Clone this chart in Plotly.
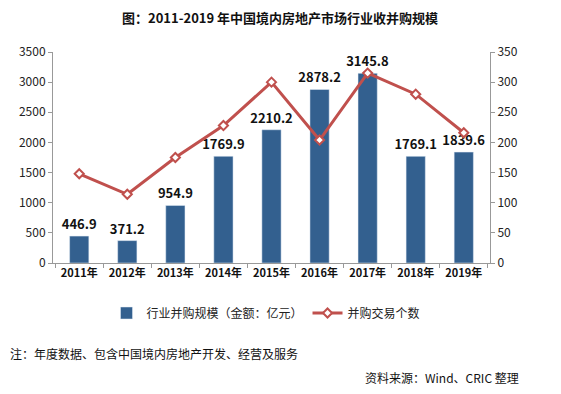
import plotly.graph_objects as go

years = ["2011年", "2012年", "2013年", "2014年", "2015年", "2016年", "2017年", "2018年", "2019年"]
amount = [446.9, 371.2, 954.9, 1769.9, 2210.2, 2878.2, 3145.8, 1769.1, 1839.6]
deals = [148, 114, 175, 228, 300, 204, 315, 280, 216]
amount_labels = ["446.9", "371.2", "954.9", "1769.9", "2210.2", "2878.2", "3145.8", "1769.1", "1839.6"]
left_ticks = [0, 500, 1000, 1500, 2000, 2500, 3000, 3500]
right_ticks = [0, 50, 100, 150, 200, 250, 300, 350]

# page body has an 8px margin, so the figure is drawn 8px in from the window edge
OFF = 8
W, H = 561 - 2 * OFF, 394 - 2 * OFF
L, T = 53 - OFF, 52 - OFF
PLOT_R, PLOT_B = 490 - OFF, 263 - OFF
R, B = W - PLOT_R, H - PLOT_B
PW, PH = W - L - R, H - T - B


def px(x):
    return (x - OFF - L) / PW


def py(y):
    return 1 - (y - OFF - T) / PH


fig = go.Figure()
fig.add_trace(go.Bar(
    x=years, y=amount, name="行业并购规模（金额：亿元）",
    marker=dict(color="#33608f"), width=0.4,
    text=amount_labels, textposition="outside", cliponaxis=False,
    constraintext="none", textangle=0,
    textfont=dict(family="Noto Sans CJK SC", size=13, color="#111111", weight="bold"),
))
fig.add_trace(go.Scatter(
    x=years, y=deals, name="并购交易个数", yaxis="y2", mode="lines+markers",
    line=dict(color="#c0504d", width=3),
    marker=dict(symbol="diamond", size=7, color="white", line=dict(color="#c0504d", width=2)),
))

axis_font = dict(family="Noto Sans CJK SC", size=12, color="#222222")
fig.update_layout(
    width=W, height=H,
    margin=dict(l=L, r=R, t=T, b=B, autoexpand=False),
    plot_bgcolor="white", paper_bgcolor="white",
    showlegend=True,
    legend=dict(orientation="h", x=px(266), xanchor="center", y=py(313), yanchor="middle",
                font=dict(family="Noto Sans CJK SC", size=12, color="#222222"),
                tracegroupgap=0),
    xaxis=dict(showline=True, linecolor="#999999", ticks="outside", tickson="boundaries",
               tickcolor="#999999", ticklen=4, tickangle=0, automargin=False,
               tickfont=dict(family="Noto Sans CJK SC", size=11, color="#111111", weight="bold")),
    yaxis=dict(range=[0, 3500], tickvals=left_ticks, showline=True, linecolor="#999999",
               ticks="outside", tickcolor="#999999", ticklen=4, showgrid=False, zeroline=False,
               automargin=False, tickfont=axis_font),
    yaxis2=dict(range=[0, 350], tickvals=right_ticks, overlaying="y", side="right",
                showline=True, linecolor="#999999", ticks="outside", tickcolor="#999999",
                ticklen=4, showgrid=False, zeroline=False, automargin=False, tickfont=axis_font),
    bargap=0.6,
)

fig.add_annotation(text="<b>图：2011-2019 年中国境内房地产市场行业收并购规模</b>",
                   xref="paper", yref="paper", x=px(280), xanchor="center",
                   y=py(18), yanchor="middle", showarrow=False,
                   font=dict(family="Noto Sans CJK SC", size=13, color="#111111"))
fig.add_annotation(text="注：年度数据、包含中国境内房地产开发、经营及服务",
                   xref="paper", yref="paper", x=px(8), xanchor="left",
                   y=py(353), yanchor="middle", showarrow=False,
                   font=dict(family="Noto Sans CJK SC", size=12, color="#111111"))
fig.add_annotation(text="资料来源：Wind、CRIC 整理",
                   xref="paper", yref="paper", x=px(521), xanchor="right",
                   y=py(377), yanchor="middle", showarrow=False,
                   font=dict(family="Noto Sans CJK SC", size=12, color="#111111"))

fig.write_html("out.html")
